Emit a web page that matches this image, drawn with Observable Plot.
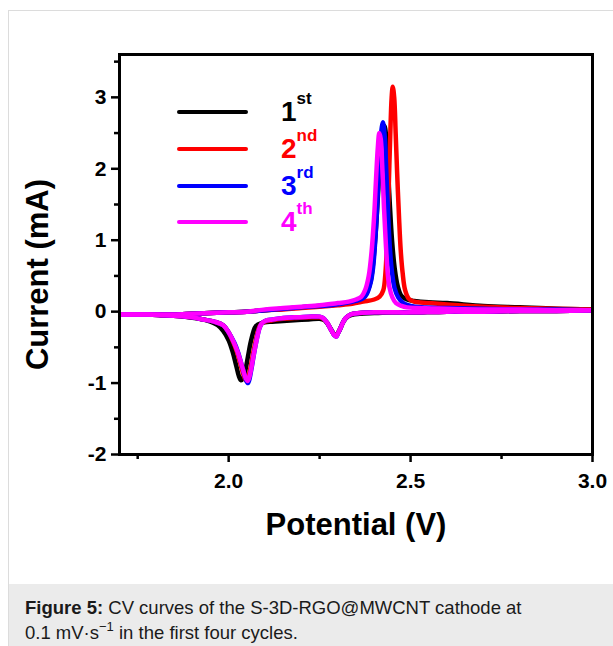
<!DOCTYPE html>
<html>
<head>
<meta charset="utf-8">
<script src="https://cdn.jsdelivr.net/npm/d3@7"></script>
<script src="https://cdn.jsdelivr.net/npm/@observablehq/plot@0.6"></script>
<style>
  body { margin: 0; background: #fff; font-family: Arial, "Liberation Sans", sans-serif; }
  #page { position: relative; width: 613px; height: 646px; overflow: hidden; background: #fff; }
  #border { position: absolute; left: 8px; top: 10px; width: 700px; height: 700px;
            border-left: 1px solid #dcdcdc; border-top: 1px solid #dcdcdc; }
  #chart { position: absolute; left: 0; top: 0; }
  .legline { position: absolute; height: 4px; border-radius: 2px; }
  .leglab { position: absolute; font-weight: bold; font-size: 28px; line-height: 28px; white-space: nowrap; }
  .leglab .sup { font-size: 17px; position: relative; top: -17px; }
  #caption { position: absolute; left: 9px; top: 584px; width: 604px; height: 62px; background: #ebebeb;
             box-sizing: border-box; padding: 11px 0 0 16px; font-size: 18.5px; line-height: 25px; color: #1a1a1a; white-space: nowrap; }
  #caption sup { font-size: 13px; line-height: 0; position: relative; top: -1px; }
</style>
</head>
<body>
<div id="page">
  <div id="border"></div>
  <div id="chart"></div>
  <div id="legend"></div>
  <div id="caption"><b>Figure 5:</b> CV curves of the S-3D-RGO@MWCNT cathode at<br>0.1 mV·s<sup>−1</sup> in the first four cycles.</div>
</div>
<script>
// ---- series names / colours ----
const cycles = ["1st", "2nd", "3rd", "4th"];
const cycleNumbers = ["1", "2", "3", "4"];
const cycleSuffixes = ["st", "nd", "rd", "th"];
const cycleColors = ["#000000", "#ff0000", "#0000ff", "#ff00ff"];

// ---- axis ticks ----
const xMajorTicks = [2.0, 2.5, 3.0];
const xMinorTicks = [1.75, 2.25, 2.75];
const yMajorTicks = [-2, -1, 0, 1, 2, 3];
const yMinorTicks = [-1.5, -0.5, 0.5, 1.5, 2.5, 3.5];

// ---- cycle 1 (black) ----
const c1CathV = [3.00,2.90,2.80,2.70,2.60,2.50,2.45,2.40,2.36,2.33,2.315,2.305,2.295,2.29,2.283,2.273,2.263,2.25,2.22,2.18,2.15,2.12,2.09,2.075,2.068,2.06,2.053,2.046,2.04,2.034,2.028,2.021,2.012,2.0,1.985,1.97,1.95,1.92,1.89,1.86,1.82,1.78,1.74,1.70];
const c1CathI = [0.02,0.01,0.01,0.0,0.0,-0.01,-0.01,-0.02,-0.03,-0.06,-0.14,-0.26,-0.33,-0.32,-0.26,-0.18,-0.12,-0.10,-0.11,-0.12,-0.13,-0.14,-0.16,-0.20,-0.28,-0.44,-0.63,-0.82,-0.93,-0.96,-0.90,-0.76,-0.58,-0.40,-0.27,-0.19,-0.14,-0.10,-0.08,-0.06,-0.05,-0.04,-0.04,-0.04];
const c1AnodV = [1.70,1.75,1.80,1.85,1.90,1.95,2.00,2.05,2.10,2.15,2.20,2.25,2.30,2.33,2.35,2.37,2.38,2.39,2.397,2.404,2.41,2.416,2.422,2.428,2.433,2.438,2.443,2.449,2.456,2.465,2.475,2.49,2.51,2.55,2.60,2.70,2.80,2.90,3.00];
const c1AnodI = [-0.04,-0.04,-0.04,-0.04,-0.03,-0.02,-0.01,0.00,0.02,0.04,0.06,0.08,0.10,0.12,0.15,0.20,0.27,0.42,0.68,1.10,1.60,2.15,2.50,2.60,2.45,2.00,1.50,1.00,0.62,0.35,0.22,0.17,0.15,0.13,0.12,0.08,0.06,0.04,0.03];

// ---- cycle 2 (red) ----
const c2CathV = [3.00,2.90,2.80,2.70,2.60,2.50,2.45,2.40,2.36,2.335,2.32,2.31,2.30,2.295,2.289,2.28,2.27,2.26,2.25,2.22,2.18,2.15,2.12,2.10,2.088,2.08,2.073,2.066,2.059,2.053,2.049,2.044,2.037,2.03,2.022,2.012,2.00,1.985,1.96,1.93,1.90,1.86,1.82,1.78,1.74,1.70];
const c2CathI = [0.02,0.01,0.01,0.00,0.00,-0.01,-0.01,-0.01,-0.02,-0.04,-0.10,-0.20,-0.30,-0.34,-0.32,-0.24,-0.15,-0.10,-0.08,-0.08,-0.09,-0.10,-0.12,-0.14,-0.18,-0.28,-0.44,-0.62,-0.81,-0.93,-0.97,-0.93,-0.82,-0.69,-0.55,-0.42,-0.29,-0.19,-0.14,-0.11,-0.08,-0.06,-0.05,-0.04,-0.04,-0.04];
const c2AnodV = [1.70,1.75,1.80,1.85,1.90,1.95,2.00,2.05,2.10,2.15,2.20,2.25,2.30,2.34,2.37,2.40,2.415,2.425,2.431,2.436,2.440,2.444,2.448,2.451,2.455,2.459,2.463,2.468,2.473,2.478,2.485,2.495,2.51,2.55,2.60,2.70,2.80,2.90,3.00];
const c2AnodI = [-0.04,-0.04,-0.04,-0.04,-0.03,-0.02,-0.01,0.00,0.02,0.03,0.05,0.07,0.09,0.11,0.14,0.17,0.21,0.30,0.55,1.10,1.75,2.45,3.00,3.15,3.00,2.50,1.95,1.35,0.85,0.55,0.30,0.18,0.14,0.12,0.10,0.07,0.05,0.04,0.03];

// ---- cycle 3 (blue) ----
const c3CathV = [3.00,2.90,2.80,2.70,2.60,2.50,2.45,2.40,2.36,2.335,2.32,2.31,2.30,2.296,2.29,2.28,2.27,2.26,2.25,2.22,2.18,2.15,2.12,2.10,2.09,2.083,2.076,2.069,2.062,2.057,2.053,2.048,2.041,2.034,2.026,2.016,2.00,1.985,1.96,1.93,1.90,1.86,1.82,1.78,1.74,1.70];
const c3CathI = [0.02,0.01,0.01,0.00,0.00,-0.01,-0.01,-0.01,-0.02,-0.04,-0.10,-0.20,-0.31,-0.35,-0.33,-0.24,-0.15,-0.09,-0.07,-0.07,-0.08,-0.09,-0.11,-0.13,-0.17,-0.26,-0.42,-0.61,-0.82,-0.95,-1.00,-0.96,-0.84,-0.71,-0.57,-0.44,-0.29,-0.19,-0.14,-0.11,-0.08,-0.06,-0.05,-0.04,-0.04,-0.04];
const c3AnodV = [1.70,1.75,1.80,1.85,1.90,1.95,2.00,2.05,2.10,2.15,2.20,2.25,2.28,2.31,2.33,2.35,2.37,2.38,2.39,2.397,2.403,2.408,2.413,2.418,2.424,2.429,2.433,2.438,2.443,2.449,2.456,2.466,2.48,2.50,2.53,2.60,2.70,2.80,2.90,3.00];
const c3AnodI = [-0.04,-0.04,-0.04,-0.04,-0.03,-0.02,-0.01,0.00,0.02,0.04,0.06,0.08,0.09,0.11,0.13,0.15,0.19,0.25,0.40,0.62,1.00,1.45,2.00,2.45,2.65,2.45,2.00,1.40,0.90,0.55,0.33,0.20,0.12,0.08,0.06,0.05,0.04,0.03,0.03,0.02];

// ---- cycle 4 (magenta) ----
const c4CathV = [3.00,2.90,2.80,2.70,2.60,2.50,2.45,2.40,2.36,2.335,2.32,2.31,2.30,2.296,2.29,2.28,2.27,2.26,2.25,2.22,2.18,2.15,2.12,2.10,2.09,2.083,2.076,2.069,2.062,2.056,2.052,2.047,2.04,2.033,2.025,2.015,2.00,1.985,1.96,1.93,1.90,1.86,1.82,1.78,1.74,1.70];
const c4CathI = [0.02,0.01,0.01,0.00,0.00,-0.01,-0.01,-0.01,-0.02,-0.04,-0.10,-0.20,-0.31,-0.35,-0.33,-0.24,-0.15,-0.09,-0.07,-0.07,-0.08,-0.09,-0.11,-0.13,-0.17,-0.26,-0.42,-0.60,-0.80,-0.93,-0.97,-0.93,-0.82,-0.70,-0.57,-0.44,-0.29,-0.19,-0.14,-0.11,-0.08,-0.06,-0.05,-0.04,-0.04,-0.04];
const c4AnodV = [1.70,1.75,1.80,1.85,1.90,1.95,2.00,2.05,2.10,2.15,2.20,2.25,2.30,2.33,2.35,2.365,2.375,2.385,2.393,2.40,2.405,2.41,2.414,2.418,2.422,2.427,2.432,2.437,2.442,2.45,2.46,2.475,2.49,2.52,2.60,2.70,2.80,2.90,3.00];
const c4AnodI = [-0.04,-0.04,-0.04,-0.04,-0.03,-0.02,-0.01,0.00,0.03,0.05,0.07,0.09,0.12,0.14,0.17,0.21,0.30,0.50,0.85,1.35,1.85,2.30,2.50,2.42,2.05,1.45,0.95,0.55,0.34,0.20,0.12,0.08,0.06,0.05,0.04,0.03,0.03,0.02,0.02];

// ---- build table ----
const branches = [
  [cycles[0], "cath", c1CathV, c1CathI], [cycles[0], "anod", c1AnodV, c1AnodI],
  [cycles[1], "cath", c2CathV, c2CathI], [cycles[1], "anod", c2AnodV, c2AnodI],
  [cycles[2], "cath", c3CathV, c3CathI], [cycles[2], "anod", c3AnodV, c3AnodI],
  [cycles[3], "cath", c4CathV, c4CathI], [cycles[3], "anod", c4AnodV, c4AnodI]
];
const rows = [];
for (const [cycle, dir, vs, is] of branches) {
  const n = Math.min(vs.length, is.length);
  for (let k = 0; k < n; k++) rows.push({cycle, branch: cycle + "-" + dir, V: vs[k], I: is[k]});
}

const font = "Arial, 'Liberation Sans', sans-serif";
const chart = Plot.plot({
  width: 613,
  height: 584,
  marginLeft: 119,
  marginRight: 21,
  marginTop: 54,
  marginBottom: 130,
  style: {background: "transparent", fontFamily: font, color: "black", overflow: "visible"},
  x: {domain: [1.7, 3.0]},
  y: {domain: [-2, 3.6]},
  color: {domain: cycles, range: cycleColors},
  marks: [
    Plot.line(rows, {x: "V", y: "I", z: "branch", stroke: "cycle", strokeWidth: 4.5, curve: "catmull-rom", clip: true}),
    Plot.frame({stroke: "black", strokeWidth: 3}),
    Plot.axisY(yMajorTicks, {tickSize: 8, tickPadding: 5, strokeWidth: 2.5, fontSize: 21, fontWeight: "bold", tickFormat: d => String(d), label: null}),
    Plot.axisY(yMinorTicks, {tickSize: 5, strokeWidth: 2.5, text: null, label: null}),
    Plot.axisX(xMajorTicks, {tickSize: 8, tickPadding: 11, strokeWidth: 2.5, fontSize: 21, fontWeight: "bold", tickFormat: d3.format(".1f"), label: null}),
    Plot.axisX(xMinorTicks, {tickSize: 5, strokeWidth: 2.5, text: null, label: null}),
    Plot.text(["Potential (V)"], {frameAnchor: "bottom", dy: 71, fontSize: 31, fontWeight: "bold", textAnchor: "middle", lineAnchor: "middle"}),
    Plot.text(["Current (mA)"], {frameAnchor: "left", dx: -81, dy: 20, rotate: -90, fontSize: 31, fontWeight: "bold", textAnchor: "middle", lineAnchor: "middle"})
  ]
});
document.getElementById("chart").appendChild(chart);

// ---- legend (HTML overlay) ----
const legend = document.getElementById("legend");
const legendRowY = [112, 149, 186, 222];
cycles.forEach((c, k) => {
  const line = document.createElement("div");
  line.className = "legline";
  line.style.left = "177px";
  line.style.width = "71px";
  line.style.top = (legendRowY[k] - 2) + "px";
  line.style.background = cycleColors[k];
  legend.appendChild(line);
  const lab = document.createElement("div");
  lab.className = "leglab";
  lab.style.left = "281px";
  lab.style.top = (legendRowY[k] - 14) + "px";
  lab.style.color = cycleColors[k];
  lab.innerHTML = cycleNumbers[k] + '<span class="sup">' + cycleSuffixes[k] + '</span>';
  legend.appendChild(lab);
});
</script>
</body>
</html>
